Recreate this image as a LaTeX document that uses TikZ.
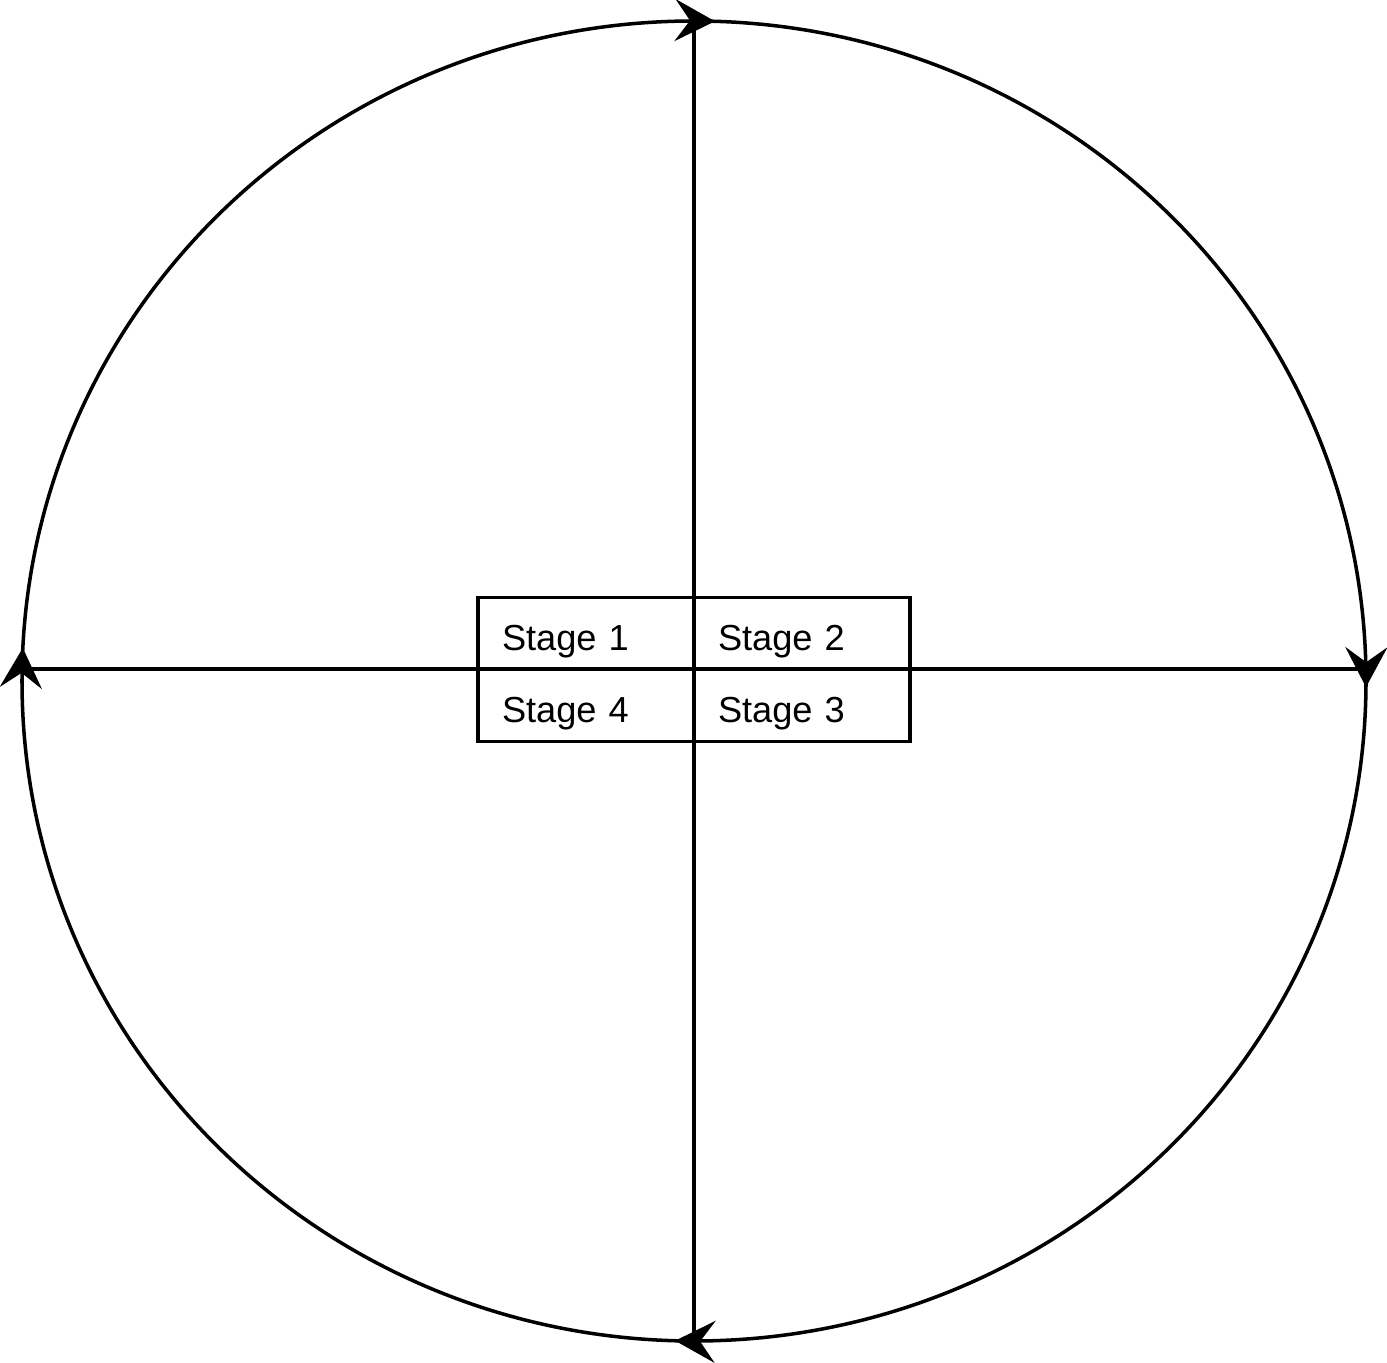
\documentclass[tikz,border=0pt]{standalone}
\usepackage{fontspec}
\setmainfont{Liberation Sans}
\usetikzlibrary{arrows.meta, positioning, decorations.markings}

\begin{document}
\begin{tikzpicture}[
  line width=2pt,
  cell/.style={draw, rectangle, text width=3.36cm, minimum height=1.44cm,
               inner xsep=0.48cm, inner ysep=0pt, outer sep=0pt, align=left,
               text height=0.7cm, text depth=0pt,
               font=\fontsize{20.6}{24}\selectfont},
  >={Stealth[length=0.8cm, width=0.84cm, inset=0.3cm]},
  axis/.style={line width=1.8pt},
]
  \useasboundingbox (0,0) rectangle (27.74,27.24);

  \coordinate (c) at (13.88,13.61);
  \coordinate (n) at (13.88,26.82);
  \coordinate (s) at (13.88,0.42);
  \coordinate (w) at (0.44,13.86);
  \coordinate (e) at (27.32,13.86);

  \node[cell] (stage1) at (11.72,14.57) {Stage 1};
  \node[cell, right=0pt of stage1] (stage2) {Stage 2};
  \node[cell, below=0pt of stage1] (stage4) {Stage 4};
  \node[cell, right=0pt of stage4] (stage3) {Stage 3};

  \draw[axis] (w) -- (e);
  \draw[axis] (n) -- (s);

  \draw[postaction={decorate}, decoration={markings,
      mark=at position 0.42cm with {\arrow{>}},
      mark=at position 21.05cm with {\arrow{>}},
      mark=at position 42.23cm with {\arrow{>}},
      mark=at position 63.44cm with {\arrow{>}}}]
    (n) arc[start angle=90, end angle=-270, x radius=13.44, y radius=13.2];
\end{tikzpicture}
\end{document}
